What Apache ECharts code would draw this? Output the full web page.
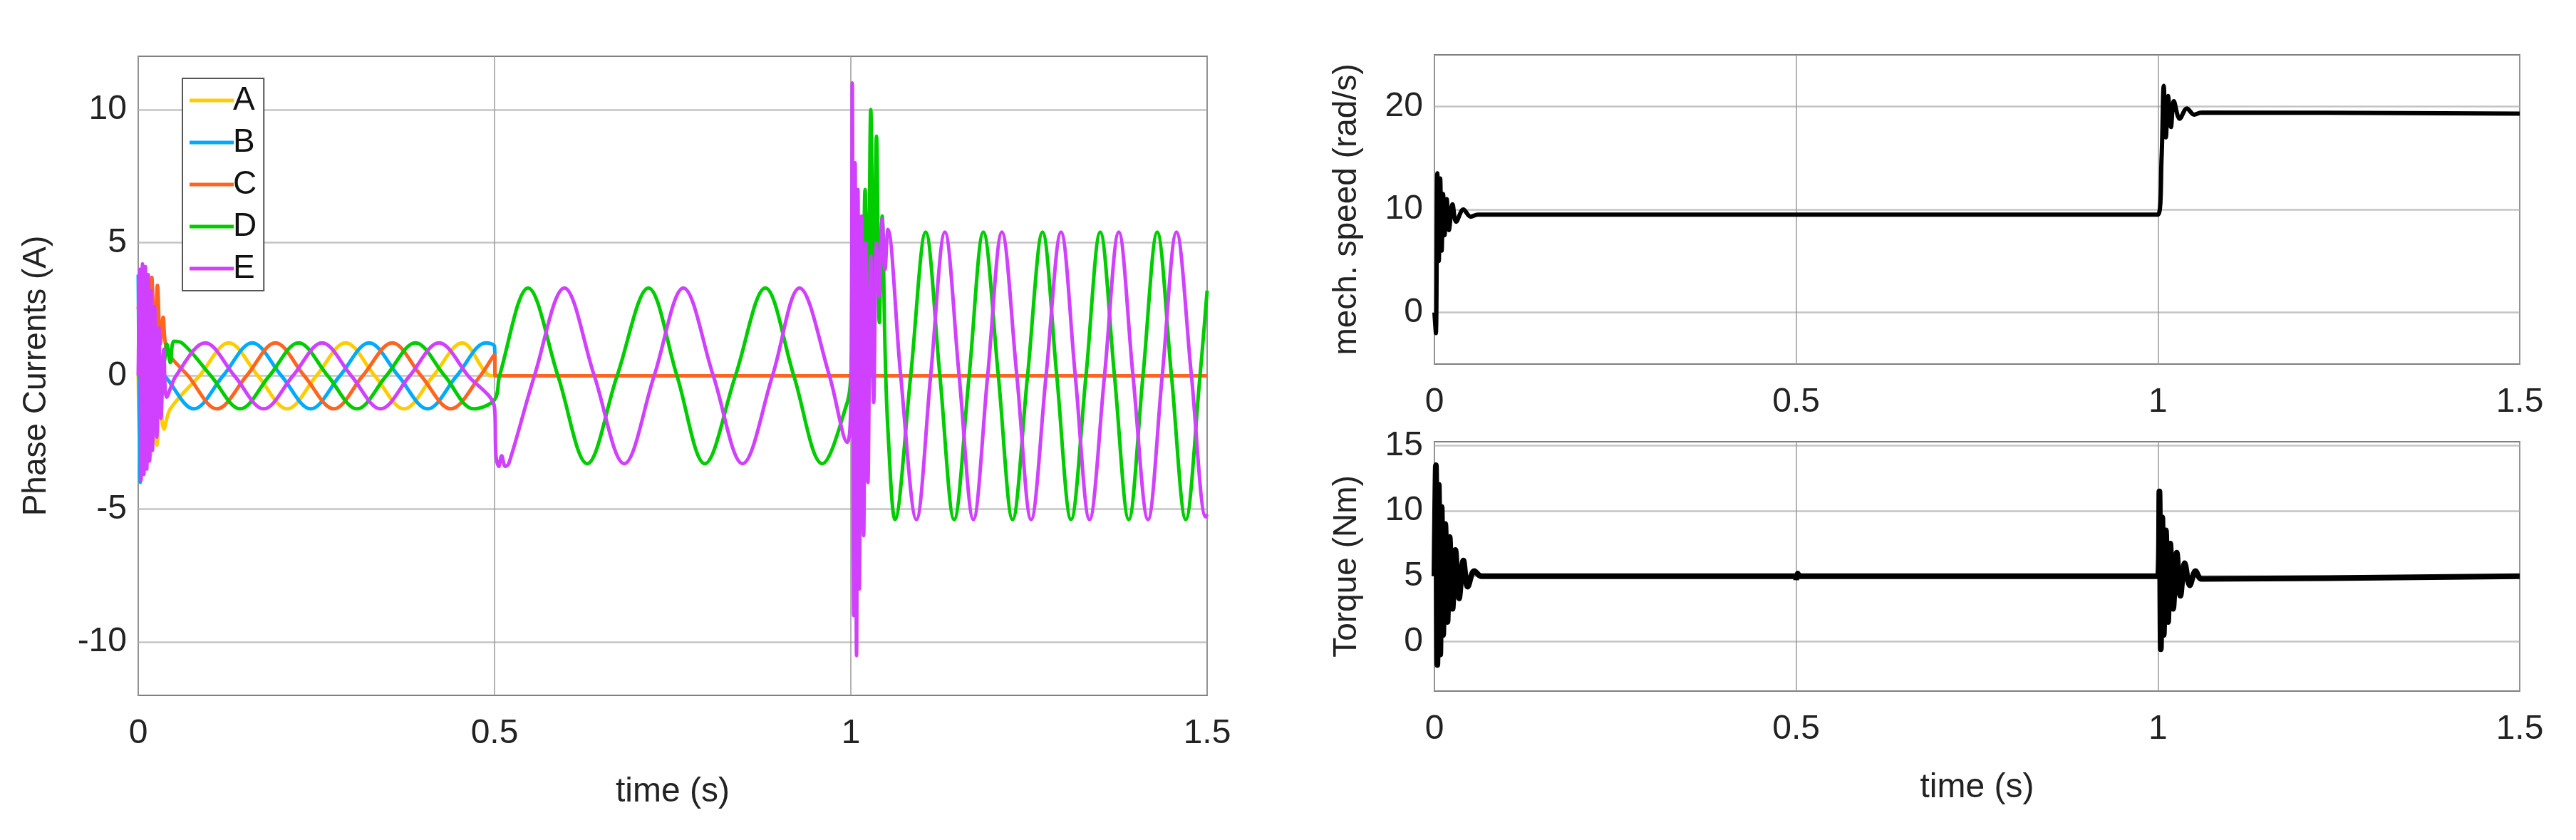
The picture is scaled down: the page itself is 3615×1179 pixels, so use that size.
<!DOCTYPE html>
<html>
<head>
<meta charset="utf-8">
<script src="https://cdn.jsdelivr.net/npm/echarts@6/dist/echarts.min.js"></script>
<style>html,body{margin:0;padding:0;background:#fff}#main{width:3615px;height:1179px}</style>
</head>
<body>
<div id="main"></div>
<script>
// phase currents [t, A]
var phaseA = [[0,0],[0.003,-3.5],[0.006,-1],[0.009,-3.3],[0.013,-1],[0.017,-3],[0.021,-1],[0.026,-2.6],[0.031,-1],[0.036,-2],[0.045,-1.24],[0.086,0],[0.127,1.24],[0.168,0],[0.209,-1.24],[0.25,0],[0.291,1.24],[0.332,0],[0.373,-1.24],[0.414,0],[0.455,1.24],[0.496,0],[0.5,0],[1.5,0]];
var phaseB = [[0,3.8],[0.003,-4],[0.006,1.5],[0.01,-2],[0.015,0.8],[0.02,0.4],[0.037,0],[0.078,-1.24],[0.119,0],[0.16,1.24],[0.201,0],[0.242,-1.24],[0.283,0],[0.324,1.24],[0.365,0],[0.406,-1.24],[0.447,0],[0.488,1.24],[0.5,1.1],[0.501,0],[1.5,0]];
var phaseC = [[0,2.5],[0.004,3.5],[0.007,0.5],[0.011,3.6],[0.015,0.8],[0.019,3.7],[0.023,1],[0.027,3.4],[0.031,1.2],[0.035,2.2],[0.04,1.0],[0.07,0],[0.1105,-1.24],[0.152,0],[0.1925,1.24],[0.233,0],[0.2745,-1.24],[0.315,0],[0.3565,1.24],[0.397,0],[0.4385,-1.24],[0.48,0],[0.5,0.8],[0.501,0],[1.5,0]];
var phaseD = [[0,0],[0.02,0],[0.035,0.4],[0.04,1.2],[0.045,0.5],[0.05,1.3],[0.061,1.24],[0.102,0],[0.143,-1.24],[0.184,0],[0.225,1.24],[0.266,0],[0.307,-1.24],[0.348,0],[0.389,1.24],[0.43,0],[0.471,-1.24],[0.5,-0.9],[0.507,0],[0.547,3.3],[0.589,0],[0.63,-3.3],[0.672,0],[0.716,3.3],[0.756,0],[0.795,-3.3],[0.838,0],[0.88,3.3],[0.92,0],[0.96,-3.3],[0.995,-1],[1.0,0],[1.004,3],[1.008,-2],[1.012,5],[1.016,0],[1.02,7],[1.024,2],[1.028,10],[1.032,3],[1.036,9],[1.04,2],[1.044,6],[1.048,1],[1.052,-2],[1.062,-5.4],[1.084,0],[1.105,5.4],[1.125,0],[1.145,-5.4],[1.166,0],[1.186,5.4],[1.207,0],[1.227,-5.4],[1.248,0],[1.269,5.4],[1.289,0],[1.309,-5.4],[1.33,0],[1.35,5.4],[1.37,0],[1.39,-5.4],[1.41,0],[1.43,5.4],[1.45,0],[1.47,-5.4],[1.49,0],[1.5,3.2]];
var phaseE = [[0,0],[0.002,4],[0.004,-3.9],[0.006,4.2],[0.008,-3.7],[0.01,4.1],[0.012,-3.5],[0.014,3.8],[0.016,-3.2],[0.018,3.2],[0.02,-2.8],[0.023,2.6],[0.026,-2.3],[0.029,1.8],[0.032,-1.6],[0.036,1],[0.04,-0.8],[0.053,0],[0.094,1.24],[0.135,0],[0.176,-1.24],[0.217,0],[0.258,1.24],[0.299,0],[0.34,-1.24],[0.381,0],[0.422,1.24],[0.463,0],[0.5,-1.2],[0.502,-3],[0.506,-3.4],[0.51,-3],[0.515,-3.4],[0.52,-3.3],[0.556,0],[0.598,3.3],[0.64,0],[0.682,-3.3],[0.724,0],[0.765,3.3],[0.807,0],[0.848,-3.3],[0.89,0],[0.928,3.3],[0.97,0],[0.995,-2.5],[1.0,-1],[1.002,11],[1.004,-9],[1.006,8],[1.008,-10.5],[1.01,7],[1.012,-8],[1.015,6],[1.018,-6],[1.021,5],[1.024,-4],[1.028,4.5],[1.032,-1],[1.036,5],[1.04,3],[1.044,5.9],[1.048,4],[1.052,5.5],[1.07,0],[1.092,-5.4],[1.112,0],[1.132,5.4],[1.152,0],[1.172,-5.4],[1.192,0],[1.212,5.4],[1.233,0],[1.253,-5.4],[1.274,0],[1.295,5.4],[1.315,0],[1.335,-5.4],[1.356,0],[1.376,5.4],[1.396,0],[1.417,-5.4],[1.437,0],[1.457,5.4],[1.478,0],[1.498,-5.3],[1.5,-5.2]];

// mechanical speed [t, rad/s]
var speed = [[0,0],[0.002,-2],[0.004,13.5],[0.006,5],[0.008,13],[0.01,6],[0.012,11.5],[0.014,7.5],[0.017,11],[0.02,8],[0.025,10.5],[0.03,8.8],[0.04,10],[0.05,9.3],[0.06,9.5],[1.0,9.5],[1.005,15],[1.008,22],[1.011,17],[1.014,21],[1.018,18],[1.022,20.5],[1.03,18.8],[1.04,19.8],[1.05,19.2],[1.06,19.4],[1.5,19.3]];
// torque [t, Nm]
var torque = [[0,5],[0.002,13.5],[0.004,-1.8],[0.006,12],[0.008,-1],[0.01,10.3],[0.012,0.5],[0.015,9],[0.018,1.5],[0.021,8],[0.025,2.5],[0.029,7],[0.034,3.3],[0.04,6.2],[0.046,4.2],[0.055,5.4],[0.065,5],[0.5,5],[0.5,4.7],[0.502,5.2],[0.505,5],[1.0,5],[1.002,11.5],[1.004,-0.6],[1.006,9.5],[1.008,0.5],[1.011,8.5],[1.014,1.5],[1.017,7.5],[1.021,2.5],[1.026,6.8],[1.031,3.5],[1.037,6],[1.044,4.3],[1.052,5.4],[1.06,4.8],[1.5,5]];

var yTicksCurrent = [-10, -5, 0, 5, 10];
var yTicksSpeed = [0, 10, 20];
var yTicksTorque = [0, 5, 10, 15];

var labelFont = "'Liberation Sans Narrow', 'Liberation Sans', sans-serif";
var nameFont = "'Liberation Sans', Arial, sans-serif";

function xAxisOf(gridIndex, name) {
	return {
		type: "value", gridIndex: gridIndex, min: 0, max: 1.5, interval: 0.5,
		name: name, nameLocation: "middle", nameGap: 112,
		nameTextStyle: {fontFamily: labelFont, fontSize: 48, color: "#222"},
		axisLine: {show: false}, axisTick: {show: false},
		axisLabel: {fontFamily: labelFont, fontSize: 48, color: "#222", margin: 30,
			formatter: function (v) { return String(v); }},
		splitLine: {show: true, lineStyle: {color: "#9a9a9a", width: 1.5}}
	};
}

function yAxisOf(gridIndex, min, max, ticks, name, gap) {
	return {
		type: "value", gridIndex: gridIndex, min: min, max: max,
		name: name, nameLocation: "middle", nameGap: gap,
		nameTextStyle: {fontFamily: nameFont, fontSize: 46, color: "#222"},
		axisLine: {show: false},
		axisTick: {show: false, customValues: ticks},
		axisLabel: {fontFamily: labelFont, fontSize: 48, color: "#222", margin: 16, customValues: ticks},
		splitLine: {show: true, lineStyle: {color: "#c4c4c4", width: 2.5}}
	};
}

function line(name, data, color, x, y, width) {
	return {
		name: name, type: "line", data: data, xAxisIndex: x, yAxisIndex: y,
		showSymbol: false, smooth: 0.35, animation: false,
		lineStyle: {color: color, width: width}, itemStyle: {color: color}
	};
}

var chart = echarts.init(document.getElementById("main"));
chart.setOption({
	backgroundColor: "#fff",
	grid: [
		{left: 194, top: 79, width: 1500, height: 897, show: true, borderColor: "#808080", borderWidth: 2},
		{left: 2013, top: 77, width: 1523, height: 434, show: true, borderColor: "#808080", borderWidth: 2},
		{left: 2013, top: 620, width: 1523, height: 350, show: true, borderColor: "#808080", borderWidth: 2}
	],
	legend: {
		orient: "vertical", left: 256, top: 110, padding: [8, 10, 8, 10],
		backgroundColor: "#fff", borderColor: "#555", borderWidth: 2, borderRadius: 0,
		itemWidth: 62, itemHeight: 44, itemGap: 13,
		textStyle: {fontFamily: labelFont, fontSize: 46, color: "#111", padding: [0, 0, 0, -6]},
		icon: "path://M0,20 L62,20 L62,25 L0,25 Z",
		data: ["A", "B", "C", "D", "E"]
	},
	xAxis: [xAxisOf(0, "time (s)"), xAxisOf(1, ""), xAxisOf(2, "time (s)")],
	yAxis: [
		yAxisOf(0, -12, 12, yTicksCurrent, "Phase Currents (A)", 120),
		yAxisOf(1, -5, 25, yTicksSpeed, "mech. speed (rad/s)", 100),
		yAxisOf(2, -3.8, 15.3, yTicksTorque, "Torque (Nm)", 100)
	],
	series: [
		line("A", phaseA, "#ffcc00", 0, 0, 5),
		line("B", phaseB, "#00aaff", 0, 0, 5),
		line("C", phaseC, "#ff6420", 0, 0, 5),
		line("D", phaseD, "#00cc00", 0, 0, 5),
		line("E", phaseE, "#d040ff", 0, 0, 5),
		line("speed", speed, "#000", 1, 1, 6),
		line("torque", torque, "#000", 2, 2, 8)
	]
});
</script>
</body>
</html>
